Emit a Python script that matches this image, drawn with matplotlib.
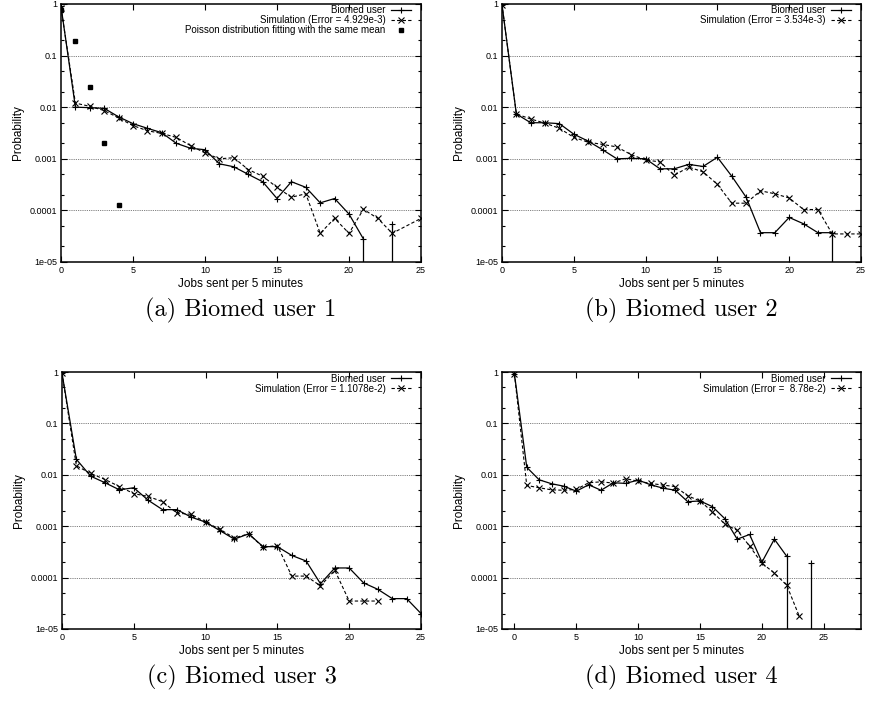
import numpy as np
import matplotlib
matplotlib.use("Agg")
import matplotlib.pyplot as plt
from matplotlib.ticker import FixedLocator, FixedFormatter, LogLocator, NullFormatter

plt.rcParams['font.family'] = ['Liberation Sans', 'DejaVu Sans']

# ---- data (probability per number of jobs in 5 min) ----
# zeros in the user series mean "no observation" (drawn as a drop to the axis)
user_a_x = list(range(0, 26))
user_a = [0.9, 0.01, 0.0098, 0.0095, 0.0065, 0.0048, 0.0039, 0.0032, 0.002, 0.0016,
          0.0015, 0.0008, 0.0007, 0.0005, 0.00036, 0.00017, 0.00036, 0.00028, 0.00014,
          0.00017, 0.000085, 2.8e-5, 0, 5.5e-5, 0, 0]
sim_a_x = list(range(0, 24)) + [25]
sim_a = [0.85, 0.012, 0.0104, 0.0086, 0.0062, 0.0044, 0.0035, 0.0031, 0.0026, 0.0018,
         0.0013, 0.001, 0.00105, 0.00062, 0.00046, 0.00028, 0.00018, 0.00021, 3.6e-5,
         7e-5, 3.6e-5, 0.000105, 7e-5, 3.6e-5, 7e-5]
poisson_x = [0, 1, 2, 3, 4]
poisson = [0.78, 0.195, 0.0244, 0.00203, 0.000127]

user_b_x = list(range(0, 25))
user_b = [0.97, 0.0074, 0.005, 0.005, 0.0048, 0.003, 0.0022, 0.0015, 0.001, 0.00102,
          0.001, 0.00064, 0.00064, 0.00078, 0.00071, 0.00107, 0.00046, 0.00018, 3.7e-5,
          3.7e-5, 7.3e-5, 5.5e-5, 3.7e-5, 3.7e-5, 0]
sim_b_x = list(range(0, 26))
sim_b = [0.97, 0.0074, 0.0059, 0.0049, 0.0039, 0.0026, 0.0021, 0.0019, 0.0017, 0.0012,
         0.00095, 0.00087, 0.00048, 0.00069, 0.00056, 0.00032, 0.000138, 0.000138,
         0.00024, 0.00021, 0.000174, 0.000104, 0.000104, 3.5e-5, 3.5e-5, 3.5e-5]

user_c_x = list(range(0, 26))
user_c = [0.95, 0.02, 0.0094, 0.007, 0.0051, 0.0056, 0.0032, 0.0021, 0.0021, 0.0015,
          0.0012, 0.00082, 0.00056, 0.00071, 0.0004, 0.0004, 0.00027, 0.00021, 7.6e-5,
          0.000154, 0.000154, 7.9e-5, 5.9e-5, 3.9e-5, 3.9e-5, 2.0e-5]
sim_c_x = list(range(0, 23))
sim_c = [0.95, 0.015, 0.0106, 0.0081, 0.0059, 0.0043, 0.0038, 0.003, 0.0018, 0.0017,
         0.0012, 0.00087, 0.00059, 0.00071, 0.00039, 0.00042, 0.000107, 0.000107,
         6.9e-5, 0.000138, 3.5e-5, 3.5e-5, 3.5e-5]

user_d_x = list(range(0, 25))
user_d = [0.93, 0.014, 0.008, 0.0067, 0.006, 0.0048, 0.0064, 0.005, 0.007, 0.0068,
          0.0079, 0.0064, 0.0055, 0.005, 0.003, 0.0031, 0.0024, 0.0014, 0.00056,
          0.00069, 0.0002, 0.00056, 0.00026, 0, 0.00019]
sim_d_x = list(range(0, 24))
sim_d = [0.93, 0.0062, 0.0056, 0.0051, 0.005, 0.0052, 0.007, 0.0073, 0.0069, 0.0084,
         0.0075, 0.0068, 0.0063, 0.0059, 0.0039, 0.0031, 0.0019, 0.0011, 0.00083,
         0.00041, 0.00019, 0.000123, 7.1e-5, 1.8e-5]

errors = ["4.929e-3", "3.534e-3", "1.1078e-2", " 8.78e-2"]
captions = ["(a) Biomed user 1", "(b) Biomed user 2", "(c) Biomed user 3", "(d) Biomed user 4"]
y_ticks = [1, 0.1, 0.01, 0.001, 0.0001, 0.00001]
y_tick_labels = ["1", "0.1", "0.01", "0.001", "0.0001", "1e-05"]
x_ticks = [0, 5, 10, 15, 20, 25]


def draw_panel(ax, ux, uy, sx, sy, err, xlim):
    ax.set_yscale('log')
    ax.set_ylim(1e-5, 1)
    ax.set_xlim(*xlim)
    uy = np.array(uy, dtype=float)
    ux = np.array(ux)
    ax.plot(ux, np.where(uy > 0, uy, np.nan), '-', color='black', lw=0.9,
            marker='+', ms=4, mew=0.8, label='Biomed user')
    # gnuplot draws a drop to the bottom where the next/previous value is zero
    for i in range(len(uy)):
        if uy[i] <= 0:
            continue
        prev_zero = i > 0 and uy[i - 1] <= 0
        next_zero = i < len(uy) - 1 and uy[i + 1] <= 0
        if prev_zero or next_zero:
            ax.vlines(ux[i], 1e-5, uy[i], color='black', lw=0.9)
    ax.plot(sx, sy, color='black', lw=0.8, ls=(0, (3, 2)),
            marker='x', ms=3.8, mew=0.8, label='Simulation (Error = %s)' % err)

    ax.yaxis.set_major_locator(FixedLocator(y_ticks))
    ax.yaxis.set_major_formatter(FixedFormatter(y_tick_labels))
    ax.yaxis.set_minor_locator(LogLocator(base=10, subs=[2, 5]))
    ax.yaxis.set_minor_formatter(NullFormatter())
    ax.set_xticks(x_ticks)
    ax.tick_params(which='both', direction='in', top=True, right=True, labelsize=6.5, pad=3)
    ax.tick_params(which='major', length=4, width=0.8)
    ax.tick_params(which='minor', length=2.5, width=0.8)
    for v in [0.1, 0.01, 0.001, 0.0001]:
        ax.axhline(v, color='#555555', lw=0.6, ls=(0, (1, 1.2)), zorder=0)
    for s in ax.spines.values():
        s.set_linewidth(1.1)
    ax.set_xlabel('Jobs sent per 5 minutes', fontsize=8.5, labelpad=2)
    ax.set_ylabel('Probability', fontsize=8.5, labelpad=4)


fig = plt.figure(figsize=(8.7, 7.02), dpi=100)
W, H = 870.0, 702.0
boxes = [(61, 4, 421, 262), (502, 4, 861, 262), (62, 372, 421, 629), (502, 372, 861, 629)]
axes = [fig.add_axes([l / W, 1 - b / H, (r - l) / W, (b - t) / H]) for l, t, r, b in boxes]

draw_panel(axes[0], user_a_x, user_a, sim_a_x, sim_a, errors[0], (0, 25))
axes[0].plot(poisson_x, poisson, 's', color='black', ms=3,
             label='Poisson distribution fitting with the same mean')
draw_panel(axes[1], user_b_x, user_b, sim_b_x, sim_b, errors[1], (0, 25))
draw_panel(axes[2], user_c_x, user_c, sim_c_x, sim_c, errors[2], (0, 25))
draw_panel(axes[3], user_d_x, user_d, sim_d_x, sim_d, errors[3], (-1, 28))

for ax, (l, t, r, b) in zip(axes, boxes):
    ax.legend(loc='upper right', bbox_to_anchor=(1 - 10 / (r - l), 1 - 1.5 / (b - t)),
              frameon=False, markerfirst=False, numpoints=1,
              fontsize=7, labelspacing=0.0, handlelength=2.1, handletextpad=0.5,
              borderaxespad=0, borderpad=0)

cap_y = [310, 310, 677, 677]
for ax, cap, (l, t, r, b), cy in zip(axes, captions, boxes, cap_y):
    fig.text((l + r) / 2 / W, 1 - cy / H, cap, family='cmr10', fontsize=17.5,
             ha='center', va='center')

fig.savefig('out.png', dpi=100)
